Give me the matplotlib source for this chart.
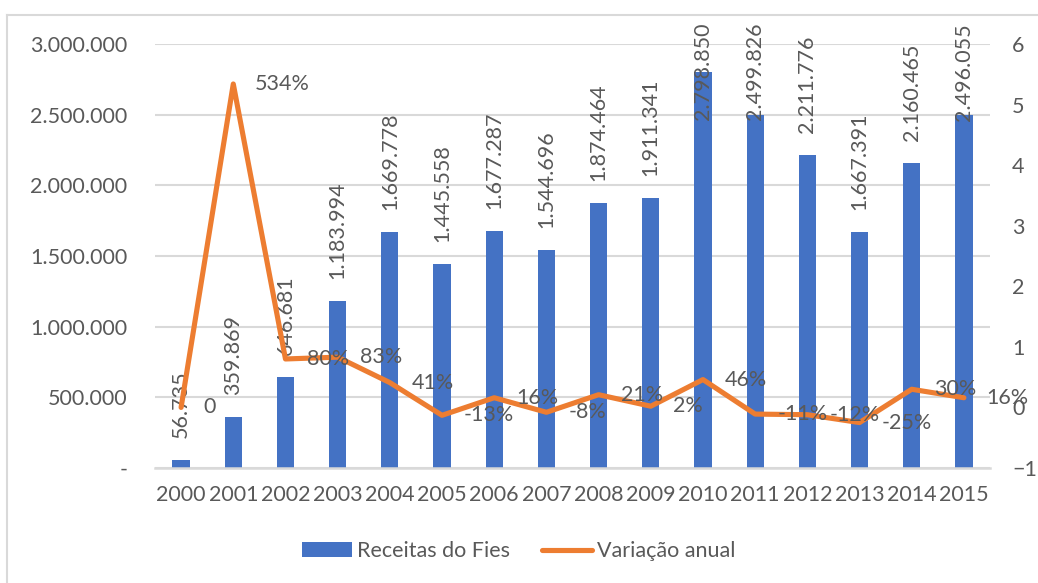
import matplotlib
matplotlib.use("Agg")
import matplotlib.pyplot as plt
from matplotlib.lines import Line2D
from matplotlib.patches import Patch
import numpy as np

years = ["2000", "2001", "2002", "2003", "2004", "2005", "2006", "2007",
         "2008", "2009", "2010", "2011", "2012", "2013", "2014", "2015"]
receitas = [56735, 359869, 646681, 1183994, 1669778, 1445558, 1677287, 1544696,
            1874464, 1911341, 2798850, 2499826, 2211776, 1667391, 2160465, 2496055]
variacao = [0.0, 5.34, 0.80, 0.83, 0.41, -0.13, 0.16, -0.08,
            0.21, 0.02, 0.46, -0.11, -0.12, -0.25, 0.30, 0.16]
variacao_labels = ["0", "534%", "80%", "83%", "41%", "-13%", "16%", "-8%",
                   "21%", "2%", "46%", "-11%", "-12%", "-25%", "30%", "16%"]
left_ticks = [0, 500000, 1000000, 1500000, 2000000, 2500000, 3000000]
left_ticklabels = ["-", "500.000", "1.000.000", "1.500.000", "2.000.000", "2.500.000", "3.000.000"]
right_ticks = [-1, 0, 1, 2, 3, 4, 5, 6]

BLUE = "#4472C4"
ORANGE = "#ED7D31"
TXT = "#595959"
GRID = "#D9D9D9"
FONT = ["Lato", "DejaVu Sans"]
FS = 15.5

plt.rcParams['font.family'] = FONT

W, H = 1038, 583
fig = plt.figure(figsize=(W / 100, H / 100), dpi=100)
ax = fig.add_axes([155 / W, 1 - 468 / H, (990 - 155) / W, (468 - 44) / H])
ax2 = ax.twinx()

x = np.arange(len(years))
ax.bar(x, receitas, width=0.33, color=BLUE, zorder=2)
ax.set_xlim(-0.5, len(years) - 0.5)
ax.set_ylim(0, 3000000)
ax.set_yticks(left_ticks)
ax.set_yticklabels(left_ticklabels)
ax.set_xticks(x)
ax.set_xticklabels(years)
ax.grid(axis='y', color=GRID, linewidth=1.5, zorder=0)
ax.set_axisbelow(True)
for s in ["top", "right", "left"]:
    ax.spines[s].set_visible(False)
ax.spines["bottom"].set_color(GRID)
ax.spines["bottom"].set_linewidth(1.8)
ax.tick_params(axis='both', length=0, colors=TXT, labelsize=FS)
ax.tick_params(axis='y', pad=20)
ax.tick_params(axis='x', pad=12)

ax2.plot(x, variacao, color=ORANGE, linewidth=3.7, solid_joinstyle='round',
         solid_capstyle='round', zorder=3)
ax2.set_ylim(-1, 6)
ax2.set_yticks(right_ticks)
for s in ["top", "right", "left", "bottom"]:
    ax2.spines[s].set_visible(False)
ax2.tick_params(axis='y', length=0, colors=TXT, labelsize=FS, pad=16)

# bar labels
bar_texts = []
for xi, v in zip(x, receitas):
    lab = f"{v:,}".replace(",", ".")
    t = ax.annotate(lab, (xi, v), xytext=(0, 22), textcoords='offset pixels',
                    rotation=90, ha='center', va='bottom', fontsize=FS,
                    color=TXT, zorder=4)
    bar_texts.append(t)

# line labels
for xi, v, lab in zip(x, variacao, variacao_labels):
    ax2.annotate(lab, (xi, v), xytext=(22, 0), textcoords='offset pixels',
                 ha='left', va='center', fontsize=FS, color=TXT, zorder=5)

# clamp bar labels within chart area (top at 23 px from figure top)
fig.canvas.draw()
r = fig.canvas.get_renderer()
for t in bar_texts:
    bb = t.get_window_extent(r)
    limit = H - 23
    if bb.y1 > limit:
        dx, dy = t.xyann
        t.xyann = (dx, dy - (bb.y1 - limit))

# chart border (left and top edges)
fig.add_artist(Line2D([7 / W, 7 / W], [0, 1 - 15 / H], transform=fig.transFigure,
                      color=GRID, linewidth=1.5))
fig.add_artist(Line2D([7 / W, 1], [1 - 15 / H, 1 - 15 / H], transform=fig.transFigure,
                      color=GRID, linewidth=1.5))

handles = [Patch(facecolor=BLUE, edgecolor='none'),
           Line2D([0], [0], color=ORANGE, linewidth=3.7, solid_capstyle='round')]
fig.legend(handles, ["Receitas do Fies", "Variação anual"], loc='center',
           bbox_to_anchor=(519 / W, 1 - 551 / H), ncol=2, frameon=False,
           fontsize=FS, labelcolor=TXT, handlelength=2.3, handleheight=0.65,
           handletextpad=0.25, columnspacing=1.5)

fig.savefig("out.png", dpi=100)
